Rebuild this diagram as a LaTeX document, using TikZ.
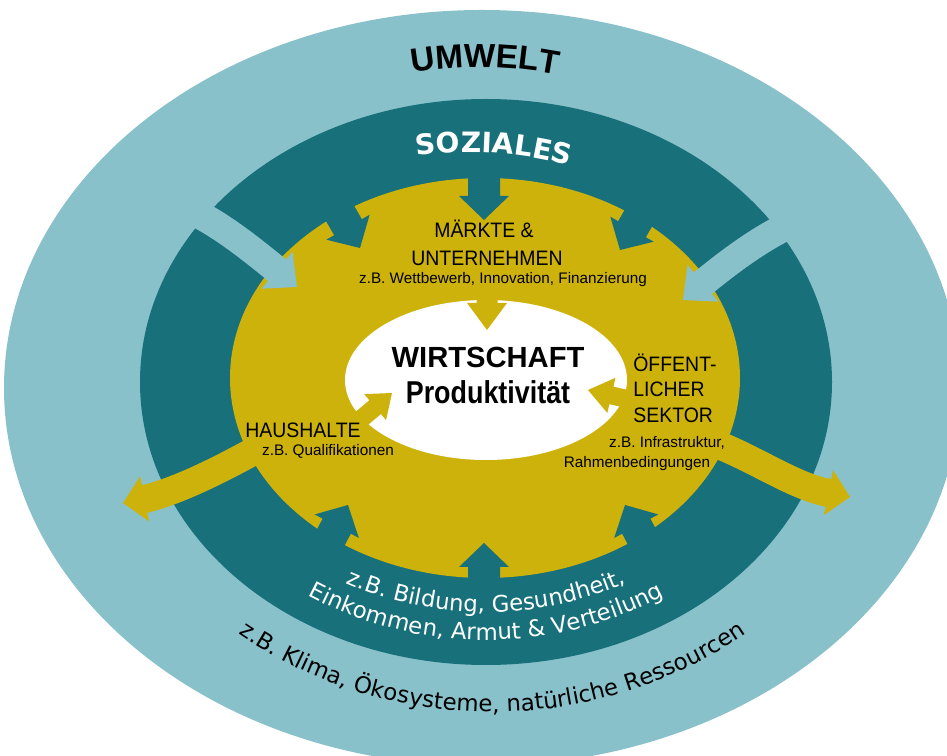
\documentclass[tikz,border=0pt]{standalone}
\usepackage{fontspec}
\setmainfont{Liberation Sans}
\newfontfamily\dejavu{DejaVu Sans}
\newfontfamily\narrowsans[FakeStretch=0.93]{Liberation Sans}
\newfontfamily\schmalsans[FakeStretch=0.85]{Liberation Sans}
\usetikzlibrary{decorations.text}
\definecolor{umweltblau}{RGB}{137,193,203}
\definecolor{sozialgruen}{RGB}{23,112,122}
\definecolor{wirtgelb}{RGB}{206,178,12}
\newcommand{\umweltfont}{\bfseries\fontsize{19}{22}\selectfont}
\newcommand{\sozfont}{\dejavu\bfseries\fontsize{16}{18}\selectfont}
\newcommand{\ringfont}{\dejavu\fontsize{13}{15}\selectfont}
\newcommand{\aussenfont}{\dejavu\fontsize{13}{15}\selectfont}
\tikzset{
  pics/fatarrow/.style n args={4}{code={
    \fill (0,0) -- (-#3,#2) -- (-#3,#1) -- (-#4,#1) -- (-#4,-#1) -- (-#3,-#1) -- (-#3,-#2) -- cycle;}},
  umweltpfeil/.style={draw=umweltblau,line width=0.56cm},
  wirtpfeil/.style={draw=wirtgelb,line width=0.56cm},
  titel/.style={font=\narrowsans\fontsize{11.9}{14}\selectfont,text=black,inner sep=0pt},
  bsp/.style={font=\fontsize{8.7}{10}\selectfont,text=black,inner sep=0pt},
  kern/.style={font=\bfseries\fontsize{16.6}{20}\selectfont,text=black,inner sep=0pt}
}
\begin{document}
\begin{tikzpicture}[line cap=butt,line join=miter,x=0.02cm,y=-0.02cm]
\useasboundingbox (0,0) rectangle (947,756);
\fill[umweltblau] (482,388) ellipse [x radius=478, y radius=378];
\fill[sozialgruen] (486,382) ellipse [x radius=346, y radius=283];
\fill[wirtgelb] (485,378) ellipse [x radius=255, y radius=200];

\draw[umweltpfeil] (160,198) .. controls (205,212) and (240,240) .. (277,270);
\pic[fill=umweltblau,rotate=-40] at (297,287) {fatarrow={14}{24}{26}{30}};
\draw[umweltpfeil] (822,212) .. controls (777,226) and (740,253) .. (703,283);
\pic[fill=umweltblau,rotate=-140] at (683,300) {fatarrow={14}{24}{26}{30}};

\draw[wirtpfeil] (265,445) .. controls (220,470) and (180,490) .. (145,499);
\pic[fill=wirtgelb,rotate=-169] at (123,503) {fatarrow={14}{23}{22}{26}};
\draw[wirtpfeil] (705,440) .. controls (750,455) and (790,485) .. (828,493);
\pic[fill=wirtgelb,rotate=-11.5] at (850,497) {fatarrow={14}{23}{22}{26}};

\pic[fill=sozialgruen,rotate=-90] at (484,220) {fatarrow={16}{25}{24}{90}};
\pic[fill=sozialgruen,rotate=-60] at (360,248) {fatarrow={16}{25}{24}{90}};
\pic[fill=sozialgruen,rotate=-120] at (620,250) {fatarrow={16}{25}{24}{90}};
\pic[fill=sozialgruen,rotate=62] at (348,505) {fatarrow={16}{25}{24}{90}};
\pic[fill=sozialgruen,rotate=90] at (484,543) {fatarrow={16}{25}{24}{90}};
\pic[fill=sozialgruen,rotate=118] at (625,505) {fatarrow={16}{25}{24}{90}};

\fill[white] (486,380) ellipse [x radius=141, y radius=80];
\pic[fill=wirtgelb,rotate=-90] at (487,330) {fatarrow={10.5}{20}{27}{45}};
\pic[fill=wirtgelb,rotate=40] at (392,393) {fatarrow={9}{17}{22}{48}};
\pic[fill=wirtgelb,rotate=167] at (588,390) {fatarrow={9}{18}{24}{52}};

\path[decorate,decoration={text along path,text align=center,text color=black,
  text={|\umweltfont|UMWELT}}] (375,82) .. controls (440,62) and (520,62) .. (595,84);
\path[decorate,decoration={text along path,text align=center,text color=white,
  text={|\sozfont|SOZIALES}}] (380,163) .. controls (450,146) and (530,148) .. (605,178);
\path[decorate,decoration={text along path,text align=center,text color=white,
  text={|\ringfont|z.B. Bildung, Gesundheit,}}] (486,260) ++(135:352) arc[start angle=135, end angle=45, radius=352];
\path[decorate,decoration={text along path,text align=center,text color=white,
  text={|\ringfont|Einkommen, Armut {\&} Verteilung}}] (486,260) ++(135:380) arc[start angle=135, end angle=45, radius=380];
\path[decorate,decoration={text along path,text align=center,text color=black,
  text={|\aussenfont|z.B. Klima, Ökosysteme, natürliche Ressourcen}}] (492,262) ++(135:450) arc[start angle=135, end angle=45, radius=450];

\node[titel,anchor=base] (maerkte) at (484,238) {MÄRKTE \&};
\node[titel,anchor=base] (unternehmen) at (487,266) {UNTERNEHMEN};
\node[bsp,anchor=base] (maerktebsp) at (503,284) {z.B. Wettbewerb, Innovation, Finanzierung};
\node[kern,anchor=base] (wirtschaft) at (488,368) {WIRTSCHAFT};
\node[kern,font=\schmalsans\bfseries\fontsize{18}{21}\selectfont,anchor=base] (produktiv) at (488,404) {Produktivität};
\node[titel,anchor=base west] (oeff1) at (633,372) {ÖFFENT-};
\node[titel,anchor=base west] (oeff2) at (633,397) {LICHER};
\node[titel,anchor=base west] (oeff3) at (633,423) {SEKTOR};
\node[bsp,anchor=base] (oeffbsp1) at (667,448) {z.B. Infrastruktur,};
\node[bsp,anchor=base] (oeffbsp2) at (637,468) {Rahmenbedingungen};
\node[titel,anchor=base] (haushalte) at (303,438) {HAUSHALTE};
\node[bsp,anchor=base] (haushbsp) at (328,456) {z.B. Qualifikationen};
\end{tikzpicture}
\end{document}
